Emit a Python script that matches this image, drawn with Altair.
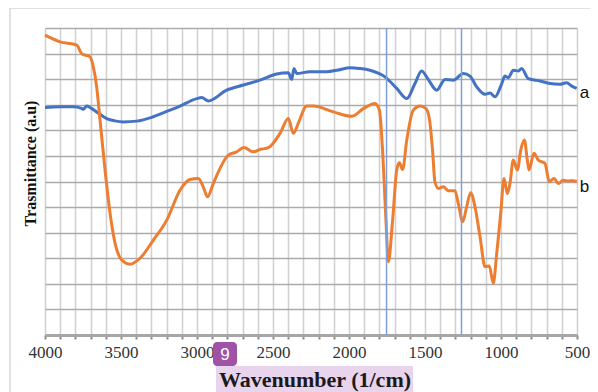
import altair as alt
import pandas as pd

# ---- data (wavenumber in 1/cm, transmittance in a.u.) ----
wn_a = [4000, 3900, 3814, 3760, 3748, 3726, 3700, 3660, 3594, 3540, 3485, 3397, 3288,
        3178, 3112, 3002, 2969, 2925, 2805, 2695, 2586, 2476, 2399, 2377, 2362, 2344,
        2257, 2147, 2070, 1993, 1930, 1862, 1763, 1686, 1620, 1566, 1522, 1480, 1423,
        1368, 1314, 1248, 1204, 1160, 1105, 1072, 1039, 995, 974, 952, 919, 886, 864,
        820, 743, 678, 612, 568, 535, 502]
tr_a = [8.89, 8.92, 8.92, 8.86, 8.82, 8.95, 8.88, 8.72, 8.46, 8.37, 8.33, 8.36, 8.53,
        8.79, 8.95, 9.24, 9.28, 9.15, 9.57, 9.77, 9.96, 10.20, 10.25, 9.99, 10.42, 10.22,
        10.29, 10.29, 10.36, 10.45, 10.42, 10.35, 10.09, 9.64, 9.24, 9.83, 10.32, 10.00, 9.57,
        9.99, 9.96, 10.22, 10.12, 9.70, 9.41, 9.46, 9.31, 9.83, 10.12, 10.06, 10.35, 10.32, 10.42,
        10.02, 9.93, 9.83, 9.80, 9.86, 9.73, 9.64]

wn_b = [4000, 3901, 3791, 3759, 3704, 3682, 3660, 3638, 3605, 3572, 3539, 3495, 3441,
        3375, 3287, 3199, 3112, 3046, 2991, 2959, 2930, 2893, 2794, 2739, 2691, 2630,
        2586, 2531, 2454, 2399, 2366, 2334, 2278, 2234, 2103, 1982, 1906, 1829, 1800,
        1778, 1757, 1741, 1713, 1686, 1669, 1647, 1620, 1577, 1533, 1493, 1470, 1450,
        1435, 1412, 1379, 1347, 1303, 1281, 1252, 1226, 1200, 1171, 1138, 1105, 1077,
        1051, 1028, 1002, 980, 958, 941, 919, 892, 870, 846, 827, 816, 783, 755, 711,
        682, 651, 623, 590, 557, 524, 502]
tr_b = [11.72, 11.46, 11.33, 11.00, 10.87, 10.48, 9.70, 8.40, 6.45, 4.76, 3.59, 2.93, 2.77,
        3.00, 3.71, 4.49, 5.66, 6.08, 6.12, 5.79, 5.40, 5.92, 7.03, 7.16, 7.33, 7.16,
        7.25, 7.32, 7.88, 8.46, 7.88, 8.27, 8.95, 8.95, 8.72, 8.55, 8.85, 9.05, 8.79,
        7.10, 4.49, 2.86, 4.49, 6.45, 6.73, 6.47, 7.62, 8.79, 8.95, 8.85, 8.40, 7.20,
        6.00, 5.73, 5.79, 5.64, 5.64, 5.14, 4.43, 5.01, 5.56, 5.01, 3.84, 2.67, 2.70,
        2.02, 3.19, 4.75, 6.12, 5.53, 5.92, 6.84, 6.45, 7.23, 7.62, 6.84, 6.45, 7.10, 6.84, 6.71,
        5.99, 6.12, 5.92, 6.05, 6.02, 6.03, 6.00]

series_names = ["a", "b"]
series_colors = ["#4472C4", "#ED7D31"]
marker_wn = [1753, 1260]
x_ticks = list(range(500, 4001, 100))
y_ticks = list(range(0, 13))
x_title = "Wavenumber (1/cm)"
y_title = "Trasmittance (a.u)"
badge_text = "9"

df = pd.concat([
    pd.DataFrame({"wn": wn_a, "tr": tr_a, "s": series_names[0]}),
    pd.DataFrame({"wn": wn_b, "tr": tr_b, "s": series_names[1]}),
])
df_end = pd.DataFrame({"wn": [wn_a[-1], wn_b[-1]], "tr": [tr_a[-1], tr_b[-1]], "s": series_names})
df_rule = pd.DataFrame({"wn": marker_wn})
one = pd.DataFrame({"t": [x_title]})

x_scale = alt.Scale(domain=[4000, 500], nice=False, zero=False)
y_scale = alt.Scale(domain=[0, 12], nice=False, zero=False)
color_scale = alt.Scale(domain=series_names, range=series_colors)

x_axis = alt.Axis(
    values=x_ticks, format="d",
    labelExpr="datum.value % 500 === 0 ? datum.label : ''",
    labelFont="Liberation Serif", labelFontSize=17, labelColor="#333333",
    labelPadding=5, labelOverlap=False, labelFlush=False,
    domainColor="#a6a6a6", domainWidth=3,
    tickColor="#8c8c8c", tickSize=4, tickWidth=2,
    grid=True, gridColor="#d0d0d0", gridWidth=1.5,
    title=None,
)
y_axis = alt.Axis(
    values=y_ticks, labels=False, ticks=False, domain=False,
    grid=True, gridColor="#ababab", gridWidth=1.5,
    title=y_title, titleFont="Liberation Serif", titleFontSize=16,
    titleFontWeight="bold", titleColor="#111111",
    titleAngle=-90, titleX=-15, titleY=135, titleAlign="center", titleBaseline="middle",
)

X = alt.X("wn:Q", scale=x_scale, axis=x_axis)
Y = alt.Y("tr:Q", scale=y_scale, axis=y_axis)

frame = alt.Chart(one).mark_rect(fill=None, stroke="#c4c4c4", strokeWidth=1).encode(
    x=alt.value(-35), x2=alt.value(640), y=alt.value(-20), y2=alt.value(420))

highlight = alt.Chart(one).mark_rect(color="#e9d4ee").encode(
    x=alt.value(171), x2=alt.value(368), y=alt.value(338), y2=alt.value(364))

title_txt = alt.Chart(one).mark_text(
    font="Liberation Serif", fontSize=22, fontWeight="bold", color="#1a1a1a",
    align="center", baseline="middle").encode(
    x=alt.value(270), y=alt.value(352), text="t:N")

badge = alt.Chart(one).mark_rect(color="#a052a6", cornerRadius=4).encode(
    x=alt.value(168), x2=alt.value(192), y=alt.value(314), y2=alt.value(338))
badge_txt = alt.Chart(one).mark_text(
    text=badge_text, font="Liberation Sans", fontSize=17, color="white",
    align="center", baseline="middle").encode(x=alt.value(180), y=alt.value(327))

lines = alt.Chart(df).mark_line(interpolate="monotone", strokeWidth=3).encode(
    x=X, y=Y,
    color=alt.Color("s:N", scale=color_scale, legend=None),
    detail="s:N",
)

rules = alt.Chart(df_rule).mark_rule(color="#7d9fdb", strokeWidth=1.5).encode(x=X)

end_labels = alt.Chart(df_end).mark_text(
    align="left", baseline="middle", dx=3, dy=5,
    font="Liberation Sans", fontSize=17, color="#111111").encode(
    x=X, y=Y, text="s:N",
)

chart = alt.layer(
    frame, lines, rules, end_labels, highlight, title_txt, badge, badge_txt
).properties(
    width=532, height=307,
    autosize=alt.AutoSizeParams(type="none"),
    padding={"left": 37, "top": 20, "right": 13, "bottom": 57},
).configure_view(stroke=None).configure(background="white")

chart.save("out.html", embed_options={"renderer": "svg", "actions": False})
